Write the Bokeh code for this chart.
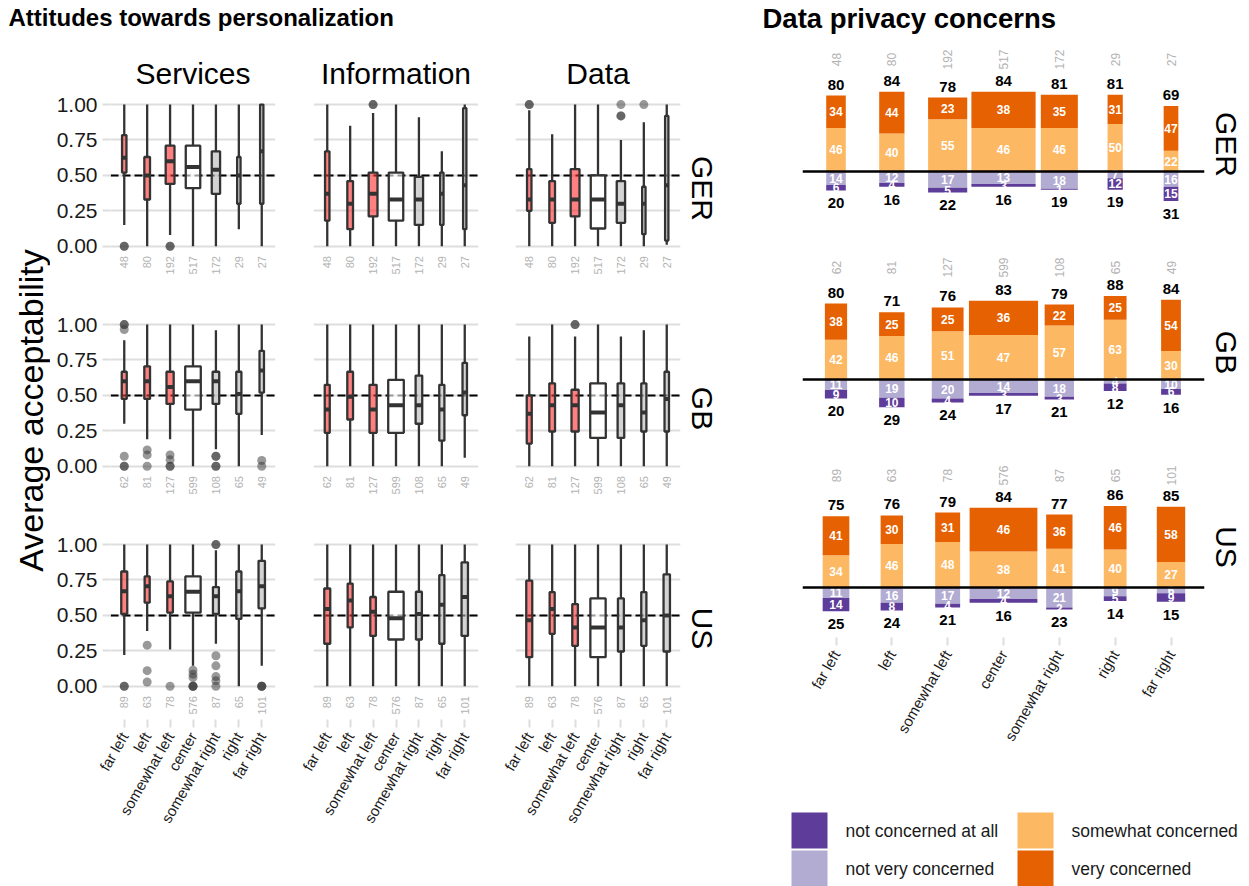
import numpy as np
from bokeh.plotting import figure
from bokeh.layouts import row, column
from bokeh.models import (ColumnDataSource, Range1d, FixedTicker, Title, Span, Grid,
                          NumeralTickFormatter)
from bokeh.embed import file_html
from bokeh.resources import INLINE
from bokeh.core.properties import value

FONT = "Liberation Sans"
INK = "#333333"
GRID_GREY = "#dedede"
COUNT_GREY = "#b3b3b3"
TEXT_DARK = "#1a1a1a"

leanings = ["far left", "left", "somewhat left", "center", "somewhat right", "right", "far right"]
countries = ["GER", "GB", "US"]
aspects = ["Services", "Information", "Data"]

# respondents per political leaning
n_ger = [48, 80, 192, 517, 172, 29, 27]
n_gb = [62, 81, 127, 599, 108, 65, 49]
n_us = [89, 63, 78, 576, 87, 65, 101]

# box fill per leaning (left-leaning, center, right-leaning)
leaning_fill = ["#ff2b2b", "#ff2b2b", "#ff2b2b", "#ffffff", "#b6b6b6", "#b6b6b6", "#b6b6b6"]

# boxplot statistics, rows: lower whisker, Q1, median, Q3, upper whisker
ger_services = [
    [0.15, 0.00, 0.08, 0.00, 0.00, 0.12, 0.00],
    [0.52, 0.33, 0.44, 0.41, 0.37, 0.30, 0.30],
    [0.625, 0.50, 0.60, 0.56, 0.54, 0.50, 0.67],
    [0.785, 0.63, 0.71, 0.71, 0.67, 0.63, 1.00],
    [1.00, 1.00, 1.00, 1.00, 1.00, 1.00, 1.00],
]
ger_services_out = [[0.0, 0.0], [], [0.0, 0.0], [], [], [], []]

ger_information = [
    [0.00, 0.00, 0.00, 0.00, 0.00, 0.00, 0.00],
    [0.18, 0.12, 0.21, 0.18, 0.15, 0.15, 0.12],
    [0.37, 0.30, 0.37, 0.33, 0.33, 0.37, 0.43],
    [0.67, 0.46, 0.52, 0.52, 0.49, 0.52, 0.975],
    [1.00, 0.85, 0.94, 1.00, 0.91, 0.67, 1.00],
]
ger_information_out = [[], [], [1.0, 1.0], [], [], [], []]

ger_data = [
    [0.00, 0.00, 0.00, 0.00, 0.00, 0.00, 0.01],
    [0.25, 0.165, 0.21, 0.125, 0.165, 0.085, 0.04],
    [0.33, 0.33, 0.33, 0.33, 0.30, 0.30, 0.43],
    [0.545, 0.46, 0.545, 0.50, 0.46, 0.42, 0.92],
    [0.96, 0.79, 1.00, 1.00, 0.75, 0.875, 1.00],
]
ger_data_out = [[1.0, 1.0], [], [], [], [1.0, 0.92, 0.92], [1.0], []]

gb_services = [
    [0.30, 0.19, 0.19, 0.00, 0.12, 0.00, 0.22],
    [0.475, 0.475, 0.44, 0.40, 0.44, 0.37, 0.52],
    [0.60, 0.60, 0.56, 0.60, 0.60, 0.51, 0.675],
    [0.667, 0.705, 0.667, 0.705, 0.667, 0.667, 0.815],
    [0.89, 1.00, 1.00, 1.00, 0.96, 1.00, 1.00],
]
gb_services_out = [[1.0, 1.0, 0.965, 0.07, 0.0, 0.0], [0.115, 0.08, 0.0], [0.08, 0.045, 0.0, 0.0],
                   [], [0.07, 0.07, 0.0, 0.0], [], [0.04, 0.0]]

gb_information = [
    [0.00, 0.00, 0.00, 0.00, 0.00, 0.00, 0.06],
    [0.236, 0.33, 0.236, 0.236, 0.30, 0.18, 0.36],
    [0.40, 0.49, 0.40, 0.43, 0.43, 0.40, 0.52],
    [0.575, 0.667, 0.575, 0.61, 0.64, 0.575, 0.73],
    [1.00, 1.00, 1.00, 1.00, 1.00, 1.00, 1.00],
]
gb_information_out = [[], [], [], [], [], [], []]

gb_data = [
    [0.00, 0.00, 0.00, 0.00, 0.00, 0.00, 0.00],
    [0.16, 0.245, 0.245, 0.20, 0.20, 0.245, 0.245],
    [0.37, 0.43, 0.43, 0.38, 0.43, 0.38, 0.475],
    [0.50, 0.585, 0.54, 0.585, 0.585, 0.585, 0.667],
    [0.915, 1.00, 0.915, 1.00, 0.915, 0.96, 1.00],
]
gb_data_out = [[], [], [1.0, 1.0], [], [], [], []]

us_services = [
    [0.22, 0.39, 0.26, 0.145, 0.30, 0.00, 0.145],
    [0.51, 0.59, 0.52, 0.52, 0.51, 0.475, 0.55],
    [0.67, 0.705, 0.635, 0.667, 0.635, 0.67, 0.705],
    [0.81, 0.775, 0.74, 0.775, 0.70, 0.81, 0.885],
    [1.00, 1.00, 1.00, 1.00, 0.96, 1.00, 1.00],
]
us_services_out = [[0.0, 0.0], [0.29, 0.11, 0.03], [0.0], [0.113, 0.085, 0.061, 0.0, 0.0, 0.0],
                   [1.0, 1.0, 0.215, 0.144, 0.068, 0.038, 0.0], [], [0.0, 0.0, 0.0]]

us_information = [
    [0.00, 0.00, 0.00, 0.00, 0.00, 0.00, 0.00],
    [0.30, 0.415, 0.355, 0.33, 0.33, 0.30, 0.355],
    [0.545, 0.605, 0.525, 0.48, 0.51, 0.575, 0.63],
    [0.69, 0.725, 0.63, 0.667, 0.667, 0.785, 0.875],
    [1.00, 1.00, 1.00, 1.00, 1.00, 1.00, 1.00],
]
us_information_out = [[], [], [], [], [], [], []]

us_data = [
    [0.00, 0.00, 0.00, 0.00, 0.00, 0.00, 0.00],
    [0.205, 0.37, 0.285, 0.205, 0.245, 0.285, 0.245],
    [0.465, 0.545, 0.415, 0.415, 0.415, 0.465, 0.50],
    [0.745, 0.665, 0.58, 0.62, 0.62, 0.665, 0.79],
    [1.00, 1.00, 1.00, 1.00, 1.00, 1.00, 1.00],
]
us_data_out = [[], [], [], [], [], [], []]

# privacy concern shares (%) per leaning
concern_levels = ["not concerned at all", "not very concerned", "somewhat concerned", "very concerned"]
concern_colors = ["#5e3c99", "#b2abd2", "#fdb863", "#e66101"]

ger_very = [34, 44, 23, 38, 35, 31, 47]
ger_somewhat = [46, 40, 55, 46, 46, 50, 22]
ger_not_very = [14, 12, 17, 13, 18, 7, 16]
ger_not_at_all = [6, 4, 5, 3, 1, 12, 15]

gb_very = [38, 25, 25, 36, 22, 25, 54]
gb_somewhat = [42, 46, 51, 47, 57, 63, 30]
gb_not_very = [11, 19, 20, 14, 18, 4, 10]
gb_not_at_all = [9, 10, 4, 3, 3, 8, 6]

us_very = [41, 30, 31, 46, 36, 46, 58]
us_somewhat = [34, 46, 48, 38, 41, 40, 27]
us_not_very = [11, 16, 17, 12, 21, 9, 6]
us_not_at_all = [14, 8, 4, 4, 2, 5, 9]

yticks = [0, 0.25, 0.5, 0.75, 1.0]

N_MAX = max(n_ger + n_gb + n_us)
BOX_MAX = 0.68    # box width (category units) for the largest group
BAR_MAX = 1.238   # bar width (category units) for the largest group


def style_title(t, size, bold=False):
    t.text_font = FONT
    t.text_font_size = size
    t.text_font_style = "bold" if bold else "normal"
    t.text_color = "black"


def bare_figure(width, height, xr, yr, **kw):
    p = figure(width=width, height=height, x_range=Range1d(*xr), y_range=Range1d(*yr),
               x_axis_location=None, y_axis_location=None, title=None,
               toolbar_location=None, output_backend="svg", **kw)
    p.outline_line_color = None
    for g in p.grid:
        g.visible = False
    return p


def style_x_axis(p, size="15px"):
    ax = p.xaxis[0]
    ax.ticker = FixedTicker(ticks=list(range(1, len(leanings) + 1)))
    ax.major_label_overrides = {i + 1: lab for i, lab in enumerate(leanings)}
    ax.major_label_orientation = np.pi / 3
    ax.major_label_text_font = FONT
    ax.major_label_text_font_size = size
    ax.major_label_text_color = TEXT_DARK
    ax.axis_line_color = None
    ax.major_tick_line_color = GRID_GREY
    ax.major_tick_line_width = 2
    ax.major_tick_out = 8
    ax.major_tick_in = 0
    ax.minor_tick_line_color = None
    ax.major_label_standoff = 6


def box_panel(stats, outliers, counts, r, c):
    lo, q1, med, q3, hi = (np.asarray(s, dtype=float) for s in stats)
    x = np.arange(1, len(leanings) + 1, dtype=float)
    w = BOX_MAX * np.sqrt(np.asarray(counts, dtype=float) / N_MAX)
    src = ColumnDataSource(dict(x=x, lo=lo, q1=q1, med=med, q3=q3, hi=hi, w=w,
                                xl=x - w / 2, xr=x + w / 2, fill=leaning_fill,
                                n=[str(v) for v in counts], ny=np.full(len(x), -0.07)))
    ox = [i + 1 for i, vals in enumerate(outliers) for _ in vals]
    oy = [v for vals in outliers for v in vals]

    bl = 60 if c == 0 else 19
    br = 82 if c == 2 else (19 if c == 0 else 18)
    bt = 57 if r == 0 else 19
    bb = 167 if r == 2 else 19
    p = figure(width=bl + 165 + br, height=bt + 182 + bb,
               x_range=Range1d(0.4, 7.6), y_range=Range1d(-0.235, 1.05),
               x_axis_location="below" if r == 2 else None,
               y_axis_location="left" if c == 0 else None,
               title=aspects[c] if r == 0 else None,
               toolbar_location=None, output_backend="svg",
               min_border_left=bl, min_border_right=br,
               min_border_top=bt, min_border_bottom=bb)
    p.outline_line_color = None

    if r == 0:
        p.title.align = "center"
        p.title.standoff = 15
        style_title(p.title, "30px")
    if c == 2:
        lab = Title(text=countries[r], align="center")
        style_title(lab, "30px")
        p.add_layout(lab, "right")
    if c == 0:
        ax = p.yaxis[0]
        ax.ticker = FixedTicker(ticks=yticks)
        ax.formatter = NumeralTickFormatter(format="0.00")
        ax.axis_line_color = None
        ax.major_tick_line_color = GRID_GREY
        ax.major_tick_line_width = 2
        ax.major_tick_out = 8
        ax.major_tick_in = 0
        ax.minor_tick_line_color = None
        ax.major_label_text_font = FONT
        ax.major_label_text_font_size = "21px"
        ax.major_label_text_color = TEXT_DARK
        ax.major_label_standoff = 5
    if r == 2:
        style_x_axis(p)

    for g in p.grid:
        g.visible = False
    p.add_layout(Grid(dimension=1, ticker=FixedTicker(ticks=yticks),
                      grid_line_color=GRID_GREY, grid_line_width=2))
    p.add_layout(Span(location=0.5, dimension="width", line_color="black",
                      line_dash="8 4", line_width=2, level="underlay"))

    p.segment(x0="x", y0="q3", x1="x", y1="hi", line_color=INK, line_width=2.3, source=src)
    p.segment(x0="x", y0="q1", x1="x", y1="lo", line_color=INK, line_width=2.3, source=src)
    p.vbar(x="x", width="w", bottom="q1", top="q3", fill_color="fill", fill_alpha=0.6,
           line_color=INK, line_width=2.3, source=src)
    p.segment(x0="xl", y0="med", x1="xr", y1="med", line_color=INK, line_width=4, source=src)
    p.scatter(x=ox, y=oy, size=9, fill_color=INK, fill_alpha=0.5, line_color=None)
    p.text(x="x", y="ny", text="n", angle=np.pi / 2, text_align="right",
           text_baseline="middle", text_font=value(FONT), text_font_size="11px",
           text_color=COUNT_GREY, source=src)
    return p


def bar_panel(very, somewhat, not_very, not_at_all, counts, r):
    very, somewhat, not_very, not_at_all = (np.asarray(v, dtype=float)
                                            for v in (very, somewhat, not_very, not_at_all))
    x = np.arange(1, len(leanings) + 1, dtype=float)
    w = BAR_MAX * np.sqrt(np.asarray(counts, dtype=float) / N_MAX)
    pos = somewhat + very
    neg = not_very + not_at_all
    src = ColumnDataSource(dict(
        x=x, w=w, zero=np.zeros(len(x)), s_top=somewhat, v_top=pos,
        nv_bot=-not_very, na_bot=-neg,
        s_mid=somewhat / 2, v_mid=somewhat + very / 2,
        nv_mid=-not_very / 2, na_mid=-not_very - not_at_all / 2,
        s_lab=[f"{v:.0f}" for v in somewhat], v_lab=[f"{v:.0f}" for v in very],
        nv_lab=[f"{v:.0f}" for v in not_very], na_lab=[f"{v:.0f}" for v in not_at_all],
        pos_y=pos + 11.5, neg_y=-neg - 13.5,
        pos_lab=[f"{v:.0f}" for v in pos], neg_lab=[f"{v:.0f}" for v in neg],
        n=[str(v) for v in counts], ny=np.full(len(x), 118.0)))

    bb = 159 if r == 2 else 0
    fh = 181 if r == 2 else 208
    ytop = 138.0
    ybot = ytop - fh / 0.95
    p = figure(width=487, height=fh + bb,
               x_range=Range1d(0.4, 7.6), y_range=Range1d(ybot, ytop),
               x_axis_location="below" if r == 2 else None, y_axis_location=None,
               title=None, toolbar_location=None, output_backend="svg",
               min_border_left=40, min_border_right=44,
               min_border_top=0, min_border_bottom=bb)
    p.outline_line_color = None
    for g in p.grid:
        g.visible = False
    lab = Title(text=countries[r], align="center")
    style_title(lab, "30px")
    p.add_layout(lab, "right")
    if r == 2:
        style_x_axis(p)

    p.vbar(x="x", width="w", bottom="zero", top="s_top", fill_color=concern_colors[2],
           line_color=None, source=src)
    p.vbar(x="x", width="w", bottom="s_top", top="v_top", fill_color=concern_colors[3],
           line_color=None, source=src)
    p.vbar(x="x", width="w", bottom="nv_bot", top="zero", fill_color=concern_colors[1],
           line_color=None, source=src)
    p.vbar(x="x", width="w", bottom="na_bot", top="nv_bot", fill_color=concern_colors[0],
           line_color=None, source=src)
    p.add_layout(Span(location=0, dimension="width", line_color="black", line_width=2.5))

    seg_kw = dict(text_align="center", text_baseline="middle", text_font=value(FONT),
                  text_font_size="12px", text_font_style="bold", text_color="white", source=src)
    p.text(x="x", y="s_mid", text="s_lab", **seg_kw)
    p.text(x="x", y="v_mid", text="v_lab", **seg_kw)
    p.text(x="x", y="nv_mid", text="nv_lab", **seg_kw)
    p.text(x="x", y="na_mid", text="na_lab", **seg_kw)
    tot_kw = dict(text_align="center", text_baseline="middle", text_font=value(FONT),
                  text_font_size="15px", text_font_style="bold", text_color="black", source=src)
    p.text(x="x", y="pos_y", text="pos_lab", **tot_kw)
    p.text(x="x", y="neg_y", text="neg_lab", **tot_kw)
    p.text(x="x", y="ny", text="n", angle=np.pi / 2, text_align="center",
           text_baseline="middle", text_font=value(FONT), text_font_size="12px",
           text_color=COUNT_GREY, source=src)
    return p


def legend_panel():
    # key drawn in pixel units: two columns, two entries each
    p = bare_figure(487, 90, (0, 487), (0, 90), min_border=0)
    key_x = [47, 47, 273, 273]
    key_y = [56, 18, 56, 18]
    src = ColumnDataSource(dict(x=key_x, y=key_y, c=concern_colors, label=concern_levels,
                                tx=[v + 36 for v in key_x]))
    p.rect(x="x", y="y", width=36, height=36, fill_color="c", line_color=None, source=src)
    p.text(x="tx", y="y", text="label", text_align="left", text_baseline="middle",
           text_font=value(FONT), text_font_size="17.5px", text_color=TEXT_DARK, source=src)
    return p


def header_panel(width, text, size, x0, y0):
    p = bare_figure(width, 40, (0, width), (0, 40), min_border=0)
    p.text(x=[x0], y=[y0], text=[text], text_align="left",
           text_baseline="alphabetic", text_font=value(FONT), text_font_size=size,
           text_font_style="bold", text_color="black")
    return p


def ylabel_panel():
    p = bare_figure(50, 846, (0, 50), (0, 846), min_border=0)
    p.text(x=[30], y=[476], text=["Average acceptability"], angle=np.pi / 2,
           text_align="center", text_baseline="middle", text_font=value(FONT),
           text_font_size="34px", text_color="black")
    return p


box_stats = [
    [(ger_services, ger_services_out), (ger_information, ger_information_out), (ger_data, ger_data_out)],
    [(gb_services, gb_services_out), (gb_information, gb_information_out), (gb_data, gb_data_out)],
    [(us_services, us_services_out), (us_information, us_information_out), (us_data, us_data_out)],
]
country_n = [n_ger, n_gb, n_us]

grid_rows = []
for r in range(3):
    grid_rows.append(row(*[box_panel(box_stats[r][c][0], box_stats[r][c][1], country_n[r], r, c)
                           for c in range(3)]))
left = column(header_panel(762, "Attitudes towards personalization", "24px", 8, 23),
              row(ylabel_panel(), column(*grid_rows)))

concern = [
    (ger_very, ger_somewhat, ger_not_very, ger_not_at_all),
    (gb_very, gb_somewhat, gb_not_very, gb_not_at_all),
    (us_very, us_somewhat, us_not_very, us_not_at_all),
]
bars = column(*[bar_panel(*concern[r], country_n[r], r) for r in range(3)])
right = column(row(header_panel(487, "Data privacy concerns", "27.5px", 0, 22)),
               bars, row(legend_panel()))

layout = row(left, right)
open("out.html", "w").write(file_html(layout, INLINE))
